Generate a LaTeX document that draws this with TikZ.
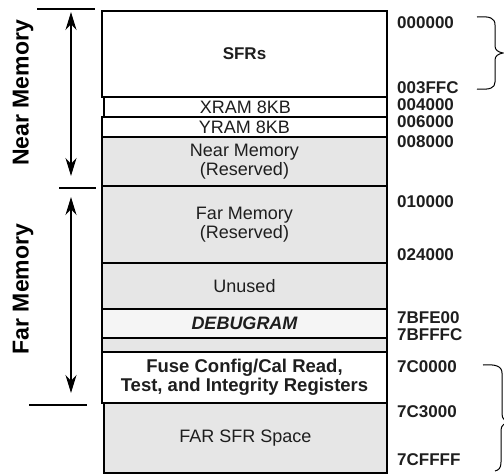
\documentclass[tikz,border=0pt]{standalone}
\usepackage{fontspec}
\setmainfont{Liberation Sans}
\usetikzlibrary{arrows.meta}
\definecolor{memgray}{HTML}{E6E6E6}
\definecolor{dbgfill}{HTML}{F5F5F5}
\definecolor{txt}{HTML}{1E1E1E}
\begin{document}
\begin{tikzpicture}[x=1pt,y=-1pt,
  row/.style={draw=black, line width=1.8pt, inner sep=0pt, outer sep=0pt, minimum width=285pt, align=center, text=txt, font=\fontsize{18}{18.5}\selectfont},
  addr/.style={anchor=base west, inner sep=0pt, text=txt, font=\bfseries\fontsize{17}{17}\selectfont},
  side/.style={rotate=90, inner sep=0pt, font=\bfseries\fontsize{23}{23}\selectfont},
  sepline/.style={line width=1.8pt},
  span/.style={line width=1.5pt, {Stealth[length=18pt,width=11pt]}-{Stealth[length=18pt,width=11pt]}},
  bracepath/.style={line width=1pt}]
\useasboundingbox (0,0) rectangle (504,474);

% memory rows
\node[row, fill=white, minimum height=86pt] (sfr) at (244.5,54) {\bfseries\fontsize{17}{17}\selectfont SFRs};
\node[row, fill=white, minimum height=20pt] (yram) at (244.5,127) {YRAM 8KB};
\node[row, fill=memgray, minimum height=49pt] (nres) at (244.5,161.5) {Near Memory\\(Reserved)};
\node[row, fill=memgray, minimum height=77pt] (fres) at (244.5,224.5) {Far Memory\\(Reserved)};
\node[row, fill=memgray, minimum height=46pt] (unused) at (244.5,286) {Unused};
\node[row, fill=dbgfill, minimum height=29pt] (debug) at (244.5,323.5) {\bfseries\itshape DEBUGRAM};
\node[row, fill=memgray, minimum height=14pt] (strip) at (244.5,345) {};
\node[row, fill=white, minimum height=51pt, font=\bfseries\fontsize{18.5}{19}\selectfont] (fuse) at (244.5,377.5) {Fuse Config/Cal Read,\\Test, and Integrity Registers};
\node[row, fill=white, minimum height=20pt, minimum width=283pt] (xram) at (245.5,107) {XRAM 8KB};
\node[row, fill=memgray, minimum height=70pt, minimum width=283pt] (farsfr) at (245.5,438) {FAR SFR Space};

% addresses
\node[addr] (a0) at (397,28) {000000};
\node[addr] (a1) at (397,93) {003FFC};
\node[addr] (a2) at (397,110) {004000};
\node[addr] (a3) at (397,127) {006000};
\node[addr] (a4) at (397,147) {008000};
\node[addr] (a5) at (397,207) {010000};
\node[addr] (a6) at (397,260) {024000};
\node[addr] (a7) at (397,323) {7BFE00};
\node[addr] (a8) at (397,340) {7BFFFC};
\node[addr] (a9) at (397,372) {7C0000};
\node[addr] (a10) at (397,417) {7C3000};
\node[addr] (a11) at (397,465) {7CFFFF};

% braces
\draw[bracepath] (477,17) .. controls (490,16) and (495,18) .. (495,25) -- (495,46)
  .. controls (495,50) and (498,52) .. (503,53) .. controls (498,54) and (495,56) .. (495,60)
  -- (495,82) .. controls (495,88) and (490,90) .. (477,89);
\draw[bracepath] (483,365) .. controls (495,364) and (502,366) .. (502,373) -- (502,414)
  .. controls (502,419) and (505,421) .. (510,422) .. controls (505,423) and (501,425) .. (501,430)
  -- (501,462) .. controls (501,468) and (499,470) .. (495,471);

% boundary lines on the left
\coordinate (t1) at (37,9);  \coordinate (t2) at (95,9);
\coordinate (m1) at (59,188); \coordinate (m2) at (96,188);
\coordinate (b1) at (29,405); \coordinate (b2) at (87,405);
\draw[sepline] (t1) -- (t2);
\draw[sepline] (m1) -- (m2);
\draw[sepline] (b1) -- (b2);

% span arrows
\coordinate (n1) at (71,12);  \coordinate (n2) at (71,176);
\coordinate (f1) at (71,197); \coordinate (f2) at (71,393);
\draw[span] (n1) -- (n2);
\draw[span] (f1) -- (f2);

% side labels
\node[side] (nearlbl) at (23,93) {Near Memory};
\node[side] (farlbl) at (23,289) {Far Memory};
\end{tikzpicture}
\end{document}
